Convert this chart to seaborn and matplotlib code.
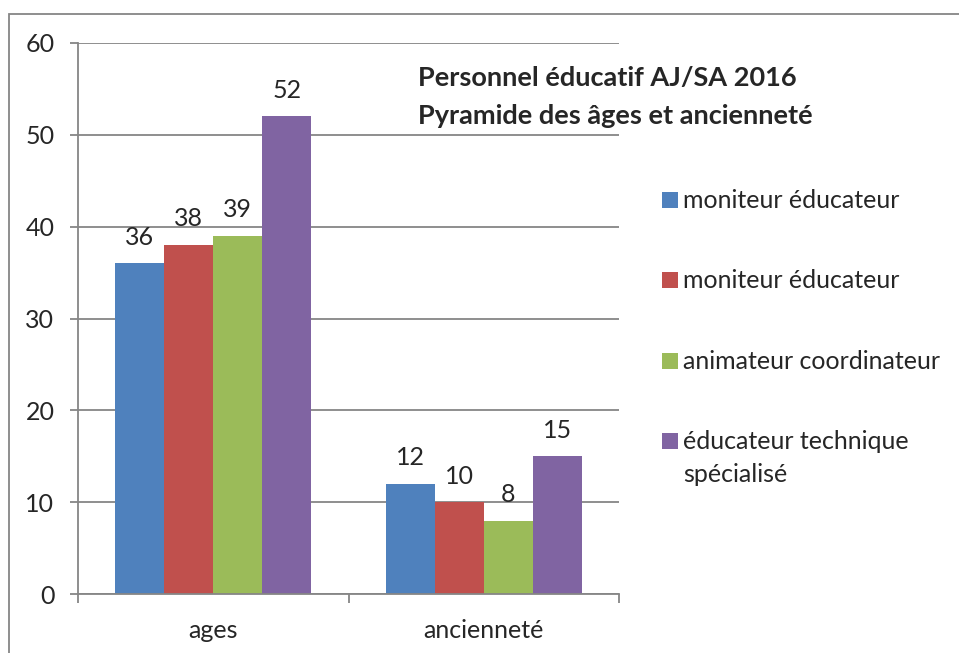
import matplotlib
matplotlib.use("Agg")
import matplotlib.pyplot as plt
import matplotlib.patches as mpatches
import seaborn as sns
import pandas as pd

# Chart data
categories = ["ages", "ancienneté"]
series_keys = ["me1", "me2", "ac", "ets"]
series_labels = ["moniteur éducateur", "moniteur éducateur",
                 "animateur coordinateur", "éducateur technique\nspécialisé"]
values_ages = [36, 38, 39, 52]
values_anciennete = [12, 10, 8, 15]
colors = ["#4F81BD", "#C0504D", "#9BBB59", "#8064A2"]
title_lines = ["Personnel éducatif AJ/SA 2016", "Pyramide des âges et ancienneté"]
y_ticks = [0, 10, 20, 30, 40, 50, 60]

rows = []
for key, a, b in zip(series_keys, values_ages, values_anciennete):
    rows.append({"categorie": categories[0], "serie": key, "valeur": a})
    rows.append({"categorie": categories[1], "serie": key, "valeur": b})
df = pd.DataFrame(rows)

sns.set_style("white")
plt.rcParams["font.family"] = ["Lato", "DejaVu Sans"]

W, H = 959, 653
FS = 18
fig = plt.figure(figsize=(W / 100, H / 100), dpi=100)
ax = fig.add_axes([78 / W, 1 - 594 / H, (619 - 78) / W, (594 - 43) / H])

sns.barplot(data=df, x="categorie", y="valeur", hue="serie",
            order=categories, hue_order=series_keys,
            palette=dict(zip(series_keys, colors)),
            width=0.725, gap=0, saturation=1, ax=ax, legend=False,
            edgecolor="none", linewidth=0)

grey = "#868686"
ax.set_xlim(-0.5, 1.5)
ax.set_ylim(0, 60)
ax.set_yticks(y_ticks)
ax.set_yticklabels([str(v) for v in y_ticks], fontsize=FS)
ax.tick_params(axis="y", length=6, width=1.3, color=grey, pad=11, left=True)
ax.yaxis.grid(True, color=grey, linewidth=1.3)
ax.set_axisbelow(True)

# category boundaries as ticks, labels centred between them
ax.set_xticks([-0.5, 0.5, 1.5])
ax.set_xticklabels(["", "", ""])
ax.tick_params(axis="x", which="major", length=6.5, width=1.3, color=grey, bottom=True)
ax.set_xticks([0, 1], minor=True)
ax.set_xticklabels(categories, minor=True, fontsize=FS)
ax.tick_params(axis="x", which="minor", length=0, pad=18)
ax.set_xlabel("")
ax.set_ylabel("")

for side in ["top", "right"]:
    ax.spines[side].set_visible(False)
for side in ["left", "bottom"]:
    ax.spines[side].set_color(grey)
    ax.spines[side].set_linewidth(1.3)

for container in ax.containers:
    ax.bar_label(container, fmt="%g", padding=10.5, fontsize=FS)

# title inside the plot area
for line, y in zip(title_lines, [78, 116]):
    fig.text(418 / W, 1 - y / H, line, fontsize=19.5, fontweight="bold",
             ha="left", va="center")

# legend: coloured squares with labels, drawn in figure pixels
baselines = [208, 288, 369, 449]
line_step = 33
for color, label, base in zip(colors, series_labels, baselines):
    fig.add_artist(mpatches.Rectangle((662 / W, 1 - base / H), 16 / W, 16 / H,
                                      transform=fig.transFigure,
                                      facecolor=color, edgecolor="none"))
    for i, part in enumerate(label.split("\n")):
        fig.text(683 / W, 1 - (base + i * line_step) / H, part, fontsize=FS,
                 ha="left", va="baseline")

# outer chart frame
fig.add_artist(mpatches.Rectangle((8.5 / W, -0.1), 1.2, 1 - 13.5 / H + 0.1,
                                  transform=fig.transFigure, fill=False,
                                  edgecolor=grey, linewidth=1.3))

fig.savefig("out.png", dpi=100)
